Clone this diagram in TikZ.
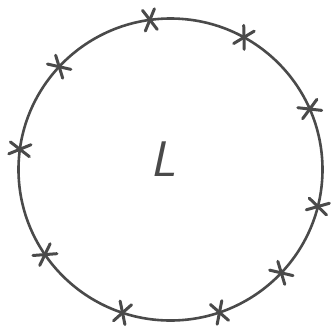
\documentclass[tikz,border=0pt]{standalone}
\begin{document}
\begin{tikzpicture}[x=1pt,y=-1pt,
  ring/.style={draw=ink,line width=2.6pt},
  tick/.style={draw=ink,line width=3pt,line cap=round},
  letter/.style={text=ink,font=\sffamily\itshape\fontsize{50}{50}\selectfont,inner sep=0pt}]
\definecolor{ink}{HTML}{4A4A4A}
\useasboundingbox (0,0) rectangle (331,333);
\coordinate (c) at (170.5,169.5);
\draw[ring] (c) ellipse [x radius=152, y radius=151];
\foreach \a in {97.8,61.1,137.1,23.6,172.3,-14.2,214.3,-43.2,251.6,288.8}{
  \path (c) ++(\a:152 and -151) coordinate (m);
  \draw[tick] (m) ++(-\a+30:12) -- ++(-\a+30:-24);
  \draw[tick] (m) ++(-\a-30:12) -- ++(-\a-30:-24);
}
\node[letter] (L) at (163,159) {L};
\end{tikzpicture}
\end{document}
